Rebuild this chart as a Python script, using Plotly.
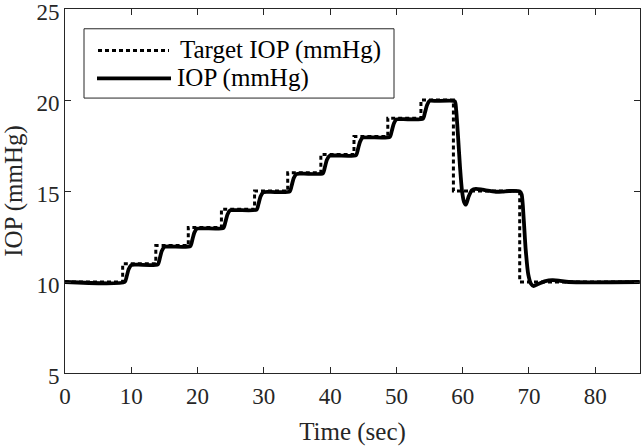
import plotly.graph_objects as go

# ---- data ----
target_time = [0, 8.7, 13.7, 18.6, 23.6, 28.6, 33.6, 38.6, 43.6, 48.7, 53.7, 58.6, 68.6, 86.7]
target_iop = [10, 11, 12, 13, 14, 15, 16, 17, 18, 19, 20, 15, 10, 10]

iop_time = [0, 9.0, 9.3, 9.6, 10.0, 11.0,
            14.0, 14.3, 14.6, 15.0, 16.0,
            18.9, 19.2, 19.5, 19.9, 21.0,
            23.9, 24.2, 24.5, 24.9, 26.0,
            28.9, 29.2, 29.5, 29.9, 31.0,
            33.9, 34.2, 34.5, 34.9, 36.0,
            38.9, 39.2, 39.5, 39.9, 41.0,
            43.9, 44.2, 44.5, 44.9, 46.0,
            49.0, 49.3, 49.6, 50.0, 51.0,
            54.0, 54.3, 54.6, 55.0, 56.0,
            58.8, 59.0, 59.3, 59.6, 59.9, 60.2, 60.5, 60.9, 61.4, 62.0, 63.0, 65.0, 66.0, 67.0,
            68.6, 68.9, 69.2, 69.5, 69.9, 70.3, 70.7, 71.3, 72.5, 73.5, 74.5, 76.0, 86.7]
iop_val = [10.0, 10.0, 10.3, 10.7, 10.93, 10.95,
           10.97, 11.3, 11.7, 11.93, 11.95,
           11.97, 12.3, 12.7, 12.93, 12.95,
           12.97, 13.3, 13.7, 13.93, 13.95,
           13.97, 14.3, 14.7, 14.93, 14.95,
           14.97, 15.3, 15.7, 15.93, 15.95,
           15.97, 16.3, 16.7, 16.93, 16.95,
           16.97, 17.3, 17.7, 17.93, 17.95,
           17.97, 18.3, 18.7, 18.93, 18.95,
           18.97, 19.3, 19.7, 19.95, 19.95,
           19.93, 19.5, 18.0, 16.3, 15.0, 14.4, 14.25, 14.7, 15.05, 15.12, 15.07, 14.96, 14.97, 15.0,
           14.98, 14.8, 13.5, 11.8, 10.4, 9.9, 9.78, 9.88, 10.05, 10.1, 10.08, 10.0, 10.0]

x_ticks = [0, 10, 20, 30, 40, 50, 60, 70, 80]
y_ticks = [5, 10, 15, 20, 25]
legend_labels = ["Target IOP (mmHg)", "IOP (mmHg)"]

FONT = "'Liberation Serif', 'Times New Roman', Times, serif"
AX = "#262626"

fig = go.Figure()
fig.add_trace(go.Scatter(x=target_time, y=target_iop, mode="lines", line_shape="hv",
                         line=dict(color="black", width=3, dash="4px,3px"),
                         name=legend_labels[0], showlegend=False))
fig.add_trace(go.Scatter(x=iop_time, y=iop_val, mode="lines", line_shape="spline",
                         line=dict(color="black", width=3.8, smoothing=0.6),
                         name=legend_labels[1], showlegend=False))

# plot area in pixels: left 65, right 640, top 8.5, bottom 373
L, R, T, B = 65, 640, 8.5, 373
def px(x):
    return (x - L) / (R - L)
def py(y):
    return (B - y) / (B - T)

shapes = [
    dict(type="rect", xref="paper", yref="paper", x0=px(84), x1=px(394), y0=py(97.7), y1=py(28.3),
         line=dict(color=AX, width=1), fillcolor="white", layer="above"),
    dict(type="line", xref="paper", yref="paper", x0=px(98), x1=px(169), y0=py(50), y1=py(50),
         line=dict(color="black", width=3, dash="4px,3px"), layer="above"),
    dict(type="line", xref="paper", yref="paper", x0=px(97), x1=px(171), y0=py(78), y1=py(78),
         line=dict(color="black", width=3.8), layer="above"),
]
annotations = [
    dict(xref="paper", yref="paper", x=px(178), y=py(50), xanchor="left", yanchor="middle",
         text=legend_labels[0], showarrow=False, font=dict(family=FONT, size=25, color="black")),
    dict(xref="paper", yref="paper", x=px(175), y=py(78), xanchor="left", yanchor="middle",
         text=legend_labels[1], showarrow=False, font=dict(family=FONT, size=25, color="black")),
]

fig.update_layout(
    width=641, height=446,
    margin=dict(l=L, r=641 - R, t=T, b=446 - B, autoexpand=False),
    paper_bgcolor="white", plot_bgcolor="white",
    font=dict(family=FONT, color=AX),
    shapes=shapes, annotations=annotations,
    showlegend=False,
)
fig.update_xaxes(range=[0, 86.75], tickvals=x_ticks, ticks="inside", ticklen=6, tickcolor=AX,
                 showline=True, linecolor=AX, linewidth=1, mirror="ticks", showgrid=False,
                 zeroline=False, automargin=False, ticklabeloverflow="allow",
                 ticklabelstandoff=2,
                 tickfont=dict(family=FONT, size=23, color=AX),
                 title=dict(text="Time (sec)", font=dict(family=FONT, size=25, color=AX), standoff=14))
fig.update_yaxes(range=[5, 25], tickvals=y_ticks, ticks="inside", ticklen=6, tickcolor=AX,
                 showline=True, linecolor=AX, linewidth=1, mirror="ticks", showgrid=False,
                 zeroline=False, automargin=False, ticklabeloverflow="allow",
                 ticklabelshift=3,
                 tickfont=dict(family=FONT, size=23, color=AX),
                 title=dict(text="IOP (mmHg)", font=dict(family=FONT, size=25, color=AX), standoff=6))

fig.write_html("out.html", config={"displayModeBar": False},
               post_script="document.body.style.margin='0';document.body.style.padding='0';")
